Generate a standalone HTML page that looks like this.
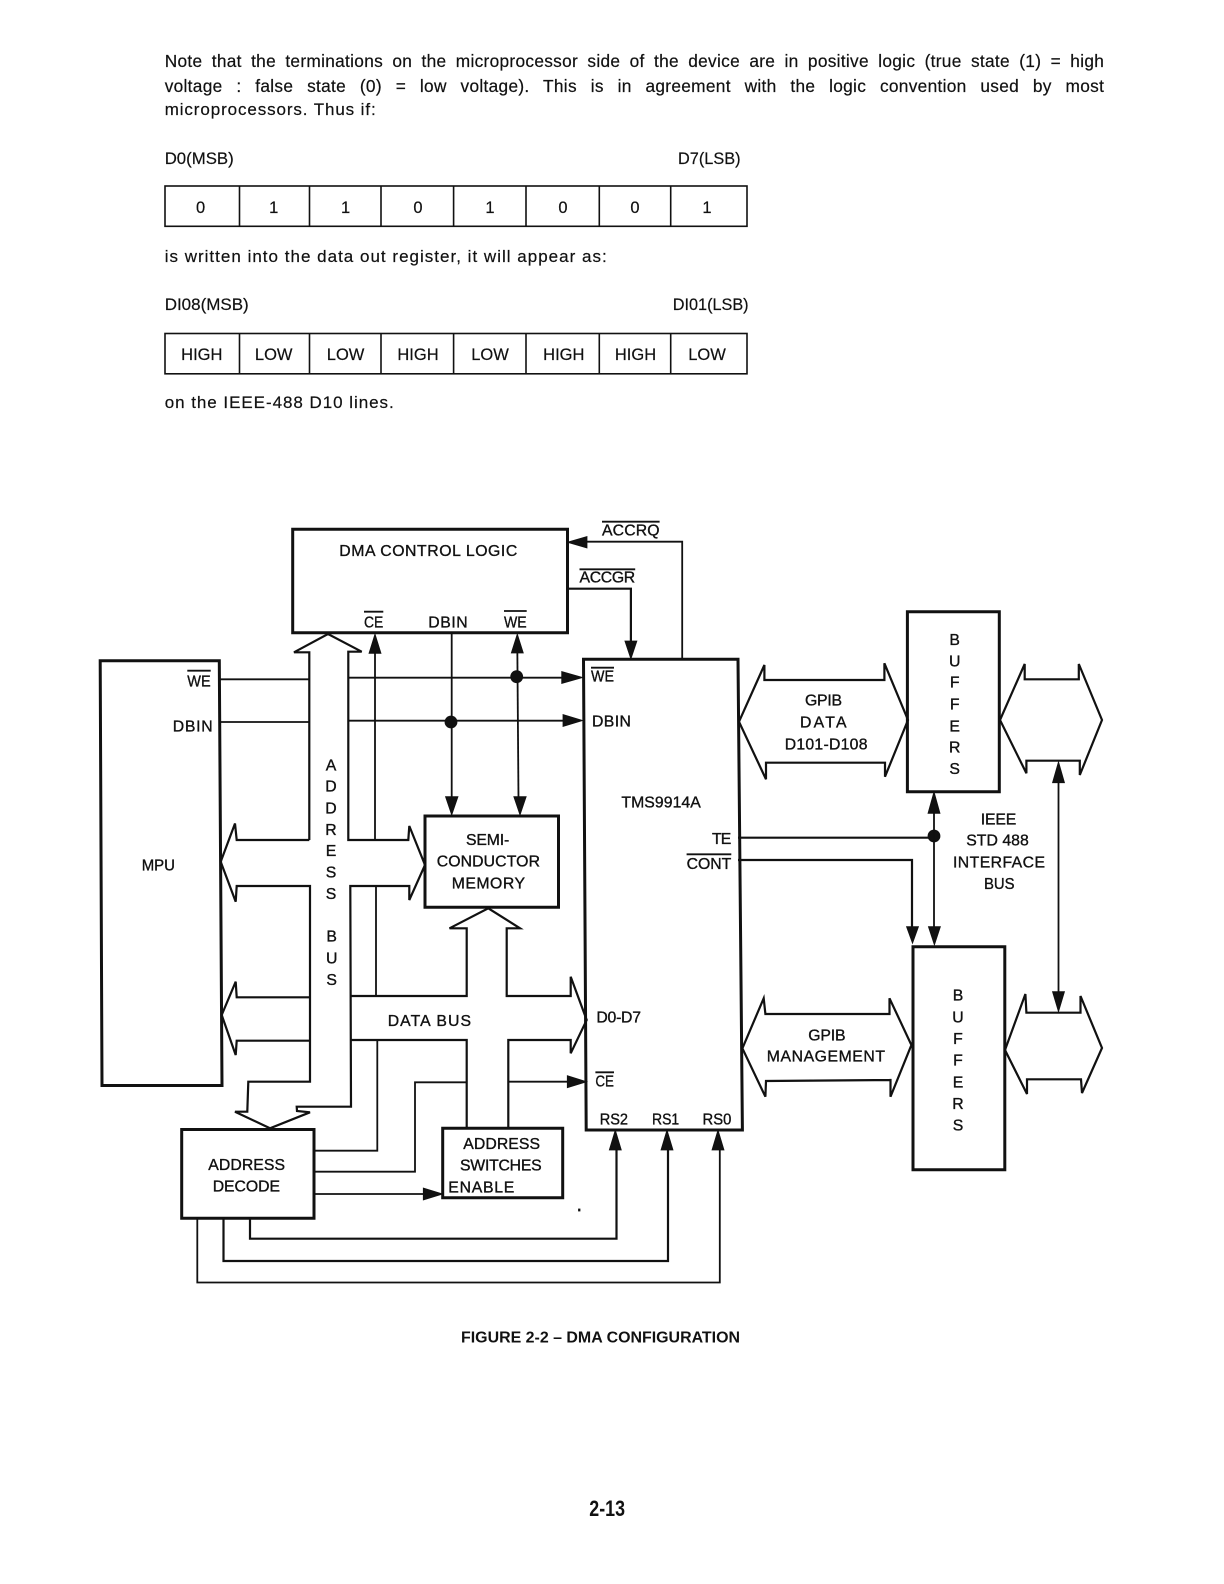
<!DOCTYPE html>
<html lang="en">
<head>
<meta charset="utf-8">
<title>Figure 2-2 DMA Configuration</title>
<style>
html,body{margin:0;padding:0;background:#fff;}
#page{position:relative;width:1224px;height:1584px;overflow:hidden;background:#fff;font-family:"Liberation Sans",sans-serif;color:#111;}
.j{position:absolute;left:164.7px;width:939.5px;font-size:17.3px;line-height:24px;letter-spacing:.3px;text-align:justify;text-align-last:justify;white-space:normal;-webkit-text-stroke:.2px #111;}
svg{position:absolute;left:0;top:0;}
text{font-family:"Liberation Sans",sans-serif;fill:#111;}
.b{font-size:17px;stroke:#111;stroke-width:.2px;}
.t{font-size:15.8px;stroke:#111;stroke-width:.35px;}
.m{text-anchor:middle;}
.c{font-size:16.5px;text-anchor:middle;stroke:#111;stroke-width:.2px;}
.n{fill:none;stroke:#111;stroke-width:2.2;stroke-linejoin:miter;}
.w{fill:none;stroke:#111;stroke-width:1.8;}
.o{fill:none;stroke:#111;stroke-width:3;}
.h{fill:#111;stroke:#111;stroke-width:.8;}
.g{fill:none;stroke:#111;stroke-width:1.6;}
</style>
</head>
<body>
<div id="page">
<div class="j" style="top:49px;">Note that the terminations on the microprocessor side of the device are in positive logic (true state (1) = high</div>
<div class="j" style="top:74px;">voltage : false state (0) = low voltage). This is in agreement with the logic convention used by most</div>
<svg width="1224" height="1584" viewBox="0 0 1224 1584" xmlns="http://www.w3.org/2000/svg">
<!-- body text -->
<text class="b" x="164.7" y="115" textLength="211" lengthAdjust="spacing">microprocessors. Thus if:</text>
<text class="b" x="164.7" y="164" textLength="69" lengthAdjust="spacingAndGlyphs">D0(MSB)</text>
<text class="b" x="678" y="164" textLength="62.5" lengthAdjust="spacingAndGlyphs">D7(LSB)</text>
<text class="b" x="164.7" y="262" textLength="442" lengthAdjust="spacing">is written into the data out register, it will appear as:</text>
<text class="b" x="164.7" y="310" textLength="84" lengthAdjust="spacingAndGlyphs">DI08(MSB)</text>
<text class="b" x="672.8" y="310" textLength="75.8" lengthAdjust="spacingAndGlyphs">DI01(LSB)</text>
<text class="b" x="164.7" y="408" textLength="229" lengthAdjust="spacing">on the IEEE-488 D10 lines.</text>
<!-- table 1 -->
<rect class="g" x="165" y="186" width="582" height="40.3"/>
<path class="g" d="M239.5 186V226M309.5 186V226M381 186V226M453.6 186V226M526 186V226M599.3 186V226M670.7 186V226"/>
<text class="c" x="200.6" y="213">0</text><text class="c" x="273.7" y="213">1</text><text class="c" x="345.6" y="213">1</text><text class="c" x="418" y="213">0</text><text class="c" x="490" y="213">1</text><text class="c" x="563" y="213">0</text><text class="c" x="635" y="213">0</text><text class="c" x="707" y="213">1</text>
<!-- table 2 -->
<rect class="g" x="165" y="333.5" width="582" height="40.3"/>
<path class="g" d="M239.5 333.5V373.5M309.5 333.5V373.5M381 333.5V373.5M453.6 333.5V373.5M526 333.5V373.5M599.3 333.5V373.5M670.7 333.5V373.5"/>
<text class="c" x="201.8" y="360">HIGH</text><text class="c" x="273.7" y="360">LOW</text><text class="c" x="345.6" y="360">LOW</text><text class="c" x="418" y="360">HIGH</text><text class="c" x="490" y="360">LOW</text><text class="c" x="563.8" y="360">HIGH</text><text class="c" x="635.5" y="360">HIGH</text><text class="c" x="707" y="360">LOW</text>

<!-- boxes -->
<path class="o" d="M292.7 529.3H567.5V632.7H292.7Z"/>
<path class="o" d="M100.2 660.7H219.3L222 1085.5H102Z"/>
<path class="o" d="M425 816H558.5V907.2H425Z"/>
<path class="o" d="M181.7 1129.5H314V1218.3H181.7Z"/>
<path class="o" d="M442.7 1128.3H562.7V1197.8H442.7Z"/>
<path class="o" d="M583.5 659.3H738L742.4 1130H586.2Z"/>
<path class="o" d="M907.4 611.7H999.3V791.7H907.4Z"/>
<path class="o" d="M913 946.7H1004.8V1169.8H913Z"/>

<!-- address bus -->
<path class="n" d="M309.3 840V652.3H294L328 634L361.7 651.7H348.3V840H408.3L409.3 826L425 865L409.3 900L409.3 886H350.3L351 1106.7H296.7L297 1111L310 1112.3L270 1128.3L235 1111.7H247.3L248.3 1081.7H310V886H236.7L235.7 901.7L220.7 861.7L235 823.5L236.7 840H309.3"/>
<!-- data bus -->
<path class="n" d="M310 997.3H236.7L235.7 981.7L221.7 1015L235.7 1055L236.7 1040.7H310"/>
<path class="n" d="M351 996H466.7V928.3H449.5L488.3 908.3L520 928.3H506.7V996H570.7V976.7L586.7 1020L570.7 1053.3V1040H508.3V1128M351 1040H466.7V1128"/>

<!-- signal lines -->
<path class="w" d="M220 679.3H309.3M348.3 677.7H568M220 722H309.3M348.3 720.7H568"/>
<path class="h" d="M582.7 677.5L561.7 671.5V683.5Z"/>
<path class="h" d="M582.7 720.5L563 714.5V726.5Z"/>
<path class="w" d="M375 645V840M376 886V996M377.3 1040V1150.7H314"/>
<path class="h" d="M375 634L369 653.3H381Z"/>
<path class="w" d="M451.7 632.7V800"/>
<path class="h" d="M451.7 815L445.5 796.7H458Z"/>
<circle class="h" cx="451" cy="722" r="6"/>
<path class="w" d="M517.3 645L518.5 800"/>
<path class="h" d="M517.3 634L511.3 653H523.3Z"/>
<path class="h" d="M520 815L513.8 796.7H526.2Z"/>
<circle class="h" cx="516.7" cy="676.7" r="6"/>
<path class="w" d="M466.7 1082.3H415V1171.7H314"/>
<path class="w" d="M314 1194H430"/>
<path class="h" d="M442.7 1194L423.3 1188V1200Z"/>
<path class="w" d="M508.3 1081.7H572"/>
<path class="h" d="M586.7 1081.7L567.3 1075.7V1087.7Z"/>

<!-- acc lines -->
<path class="w" d="M580 541.7H682.2V659"/>
<path class="h" d="M567.3 542.3L587 536.5V548Z"/>
<path class="n" d="M566.7 588.7H630.9V645"/>
<path class="h" d="M630.9 659L624.9 641H636.9Z"/>

<!-- RS lines -->
<path class="n" d="M250 1217.3V1238.7H616.5V1145"/>
<path class="n" d="M223.5 1217.3V1261H668V1145"/>
<path class="w" d="M197.3 1217.3V1282.5H719.8V1145"/>
<path class="h" d="M615.3 1130L609.3 1150H621.3Z"/>
<path class="h" d="M667 1130L661 1150H673Z"/>
<path class="h" d="M718 1130L712 1150H724Z"/>

<!-- GPIB arrows -->
<path class="n" d="M739 721.7L764.4 665V680H884.4V663.3L908 720L885 776.7V762.7H766V779.3Z"/>
<path class="n" d="M1000 720L1024.7 664V679.3H1078.8V664L1102 720L1079.8 775V760.7H1026.4V773.3Z"/>
<path class="n" d="M742.4 1048.3L763.7 998.3L765.4 1014H889.5V998.3L911.4 1045L890.5 1096.7V1080L766 1081L765.4 1096.7Z"/>
<path class="n" d="M1005 1050L1025.4 994L1026.4 1012.7H1080.5V996L1102 1048L1082 1093L1081 1079.3H1027V1094Z"/>

<!-- TE / CONT / bus -->
<path class="n" d="M738 837.7H934"/>
<circle class="h" cx="934" cy="836" r="6"/>
<path class="w" d="M934 805V930"/>
<path class="h" d="M934 791.7L928 813.3H940Z"/>
<path class="h" d="M934.4 945L928.4 926.7H940.4Z"/>
<path class="n" d="M738 860H912V930"/>
<path class="h" d="M912.5 943.3L906.5 926.7H918.5Z"/>
<path class="w" d="M1058.5 775V1000"/>
<path class="h" d="M1058.5 761.7L1052.5 782.7H1064.5Z"/>
<path class="h" d="M1058.5 1011.7L1052.5 991.7H1064.5Z"/>

<!-- overlines -->
<path class="w" d="M364 611.7H383.3M504 611H526.7M187.3 670.7H210.7M602 521.7H659.6M579.5 569.3H635.2M591 667.7H614M686.6 854.3H731.3M595.4 1072.3H614"/>

<!-- labels -->
<text class="t" x="339.3" y="556" textLength="178" lengthAdjust="spacing">DMA CONTROL LOGIC</text>
<text class="t" x="364" y="627.3" textLength="19.3" lengthAdjust="spacingAndGlyphs">CE</text>
<text class="t" x="428.3" y="627.3" textLength="39.4" lengthAdjust="spacing">DBIN</text>
<text class="t" x="504" y="627.3" textLength="22.7" lengthAdjust="spacingAndGlyphs">WE</text>
<text class="t" x="187.3" y="686.7" textLength="23.4" lengthAdjust="spacingAndGlyphs">WE</text>
<text class="t" x="172.7" y="731.3" textLength="40" lengthAdjust="spacing">DBIN</text>
<text class="t" x="141.7" y="870.7" textLength="33.3" lengthAdjust="spacingAndGlyphs">MPU</text>
<text class="t m" x="331" y="770.7">A</text><text class="t m" x="331" y="791.7">D</text><text class="t m" x="331" y="813.3">D</text><text class="t m" x="331" y="835">R</text><text class="t m" x="331" y="856">E</text><text class="t m" x="331" y="877.3">S</text><text class="t m" x="331" y="899">S</text>
<text class="t m" x="331.7" y="941.7">B</text><text class="t m" x="331.7" y="963.3">U</text><text class="t m" x="331.7" y="985">S</text>
<text class="t" x="466" y="845" textLength="43.3" lengthAdjust="spacing">SEMI-</text>
<text class="t" x="436.7" y="866.7" textLength="103.3" lengthAdjust="spacing">CONDUCTOR</text>
<text class="t" x="451.7" y="888.3" textLength="73.3" lengthAdjust="spacing">MEMORY</text>
<text class="t" x="387.7" y="1026" textLength="83.3" lengthAdjust="spacing">DATA BUS</text>
<text class="t" x="208.3" y="1170" textLength="76.7" lengthAdjust="spacing">ADDRESS</text>
<text class="t" x="212.7" y="1191.7" textLength="67.3" lengthAdjust="spacing">DECODE</text>
<text class="t" x="463.3" y="1149" textLength="76.7" lengthAdjust="spacing">ADDRESS</text>
<text class="t" x="460" y="1170.7" textLength="81.7" lengthAdjust="spacing">SWITCHES</text>
<text class="t" x="448.3" y="1192.3" textLength="66" lengthAdjust="spacing">ENABLE</text>
<text class="t" x="602" y="535.7" textLength="57.6" lengthAdjust="spacing">ACCRQ</text>
<text class="t" x="579.5" y="582.7" textLength="55.7" lengthAdjust="spacing">ACCGR</text>
<text class="t" x="591" y="681.7" textLength="23" lengthAdjust="spacingAndGlyphs">WE</text>
<text class="t" x="592" y="726.7" textLength="38.9" lengthAdjust="spacing">DBIN</text>
<text class="t" x="621.4" y="807.7" textLength="79.4" lengthAdjust="spacing">TMS9914A</text>
<text class="t" x="712" y="844" textLength="19.3" lengthAdjust="spacing">TE</text>
<text class="t" x="686.6" y="869" textLength="44.7" lengthAdjust="spacing">CONT</text>
<text class="t" x="805" y="705.7" textLength="37" lengthAdjust="spacing">GPIB</text>
<text class="t" x="800" y="727.3" textLength="46.5" lengthAdjust="spacing">DATA</text>
<text class="t" x="784.7" y="749.3" textLength="82.8" lengthAdjust="spacing">D101-D108</text>
<text class="t m" x="954.7" y="645">B</text><text class="t m" x="954.7" y="666.7">U</text><text class="t m" x="954.7" y="687.7">F</text><text class="t m" x="954.7" y="709.3">F</text><text class="t m" x="954.7" y="731.7">E</text><text class="t m" x="954.7" y="752.7">R</text><text class="t m" x="954.7" y="774">S</text>
<text class="t" x="980.7" y="824.3" textLength="35.6" lengthAdjust="spacing">IEEE</text>
<text class="t" x="966.2" y="845.7" textLength="62.6" lengthAdjust="spacing">STD 488</text>
<text class="t" x="953" y="867.3" textLength="92" lengthAdjust="spacing">INTERFACE</text>
<text class="t" x="984" y="889" textLength="30.6" lengthAdjust="spacingAndGlyphs">BUS</text>
<text class="t" x="596.4" y="1022.7" textLength="44.6" lengthAdjust="spacing">D0-D7</text>
<text class="t" x="595.4" y="1086.7" textLength="18.6" lengthAdjust="spacingAndGlyphs">CE</text>
<text class="t" x="599.7" y="1124.3" textLength="28.3" lengthAdjust="spacingAndGlyphs">RS2</text>
<text class="t" x="652" y="1124.3" textLength="27.2" lengthAdjust="spacingAndGlyphs">RS1</text>
<text class="t" x="702.5" y="1124.3" textLength="28.8" lengthAdjust="spacingAndGlyphs">RS0</text>
<text class="t" x="808.3" y="1040.7" textLength="37.2" lengthAdjust="spacing">GPIB</text>
<text class="t" x="766.8" y="1061.7" textLength="118.2" lengthAdjust="spacing">MANAGEMENT</text>
<text class="t m" x="958" y="1000.7">B</text><text class="t m" x="958" y="1022.3">U</text><text class="t m" x="958" y="1044">F</text><text class="t m" x="958" y="1065.7">F</text><text class="t m" x="958" y="1087.3">E</text><text class="t m" x="958" y="1109">R</text><text class="t m" x="958" y="1130.7">S</text>

<!-- caption -->
<text x="461" y="1342.3" font-size="16" font-weight="bold" textLength="279" lengthAdjust="spacingAndGlyphs">FIGURE 2-2 – DMA CONFIGURATION</text>
<text x="589.3" y="1516" font-size="22" font-weight="bold" textLength="35.7" lengthAdjust="spacingAndGlyphs">2-13</text>

<!-- specks -->
<rect class="h" x="578.5" y="1209" width="1.5" height="2"/>
</svg>
</div>
</body>
</html>
